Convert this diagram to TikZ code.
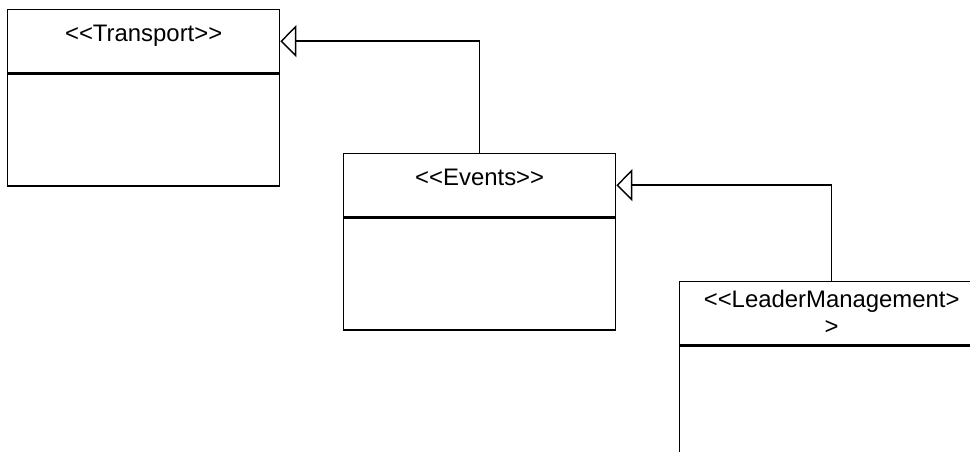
\documentclass[tikz,border=0pt]{standalone}
\usepackage{fontspec}
\setmainfont{Liberation Sans}
\usetikzlibrary{arrows.meta, positioning}

% two characters kept apart, so that << and >> stay as they are
\newcommand{\lsub}{<\kern0pt<}
\newcommand{\rsub}{>\kern0pt>}

\tikzset{
    classhead/.style={draw, line width=0.8pt, minimum width=5.44cm, inner xsep=0pt, inner ysep=0pt,
        text height=0.63cm, text depth=0.63cm, anchor=north west, align=center,
        font=\fontsize{13.6pt}{15.4pt}\selectfont},
    classbody/.style={draw, line width=0.8pt, minimum width=5.44cm, minimum height=2.24cm, inner sep=0pt},
    inherit/.style={-{Triangle[open, length=0.32cm, width=0.64cm]}, line width=0.8pt}
}

\begin{document}
\begin{tikzpicture}[x=0.02cm, y=-0.02cm]
    \useasboundingbox (0,0) rectangle (970,452);

    % Classes
    \node[classhead] (trHead) at (7,9) {\lsub Transport\rsub};
    \node[classbody, below=0pt of trHead] (trBody) {};

    \node[classhead] (evHead) at (343,153) {\lsub Events\rsub};
    \node[classbody, below=0pt of evHead] (evBody) {};

    \node[classhead, minimum width=6.08cm, text height=1.06cm, text depth=0.2cm] (lmHead) at (679,281) {\lsub LeaderManagement>\\>};
    \node[classbody, minimum width=6.08cm, below=0pt of lmHead] (lmBody) {};

    % Generalisations
    \draw[inherit] (evHead.north) |- (trHead.east);
    \draw[inherit] (lmHead.north) |- (evHead.east);

\end{tikzpicture}
\end{document}
